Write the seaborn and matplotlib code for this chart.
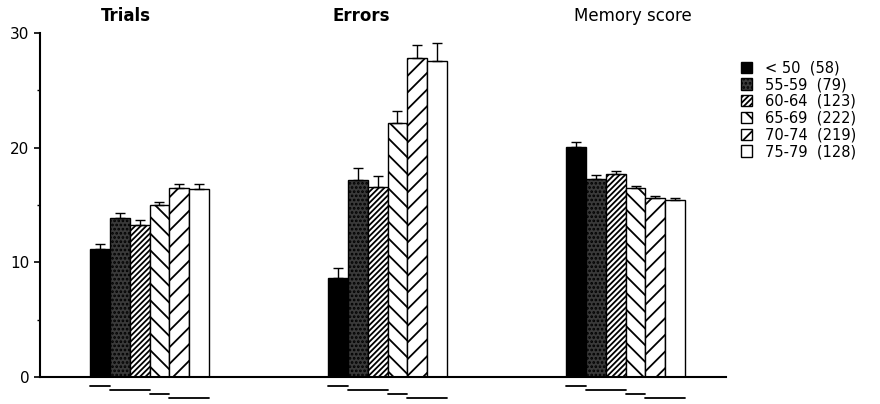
import pandas as pd
import seaborn as sns
import matplotlib.pyplot as plt

# medidas (grupos no eixo x) e faixas etárias (hue)
medidas = ["Trials", "Errors", "Memory score"]
faixas = ["< 50  (58)", "55-59  (79)", "60-64  (123)", "65-69  (222)", "70-74  (219)", "75-79  (128)"]

# médias
trials = [11.2, 13.9, 13.3, 15.0, 16.5, 16.4]
errors = [8.6, 17.2, 16.6, 22.2, 27.8, 27.6]
memory = [20.1, 17.3, 17.7, 16.5, 15.6, 15.4]

# erro padrão (só para cima)
trials_erro = [0.4, 0.4, 0.4, 0.3, 0.3, 0.4]
errors_erro = [0.9, 1.0, 0.9, 1.0, 1.2, 1.5]
memory_erro = [0.4, 0.3, 0.3, 0.2, 0.2, 0.2]

# barras agrupadas pelas linhas em escada embaixo de cada grupo
grupos_linhas = [[0], [1, 2], [3], [4, 5]]

# montando o dataframe no formato longo
linhas = []
for medida, valores in zip(medidas, [trials, errors, memory]):
    for faixa, v in zip(faixas, valores):
        linhas.append({"medida": medida, "faixa": faixa, "valor": v})
df = pd.DataFrame(linhas)

erros_por_faixa = list(zip(trials_erro, errors_erro, memory_erro))

sns.set_style("ticks")
plt.rcParams['font.family'] = ['DejaVu Sans']
plt.rcParams['hatch.linewidth'] = 1.3
plt.rcParams['text.color'] = 'black'
plt.rcParams['ytick.color'] = 'black'
plt.rcParams['ytick.labelcolor'] = 'black'
plt.rcParams['axes.edgecolor'] = 'black'

cores = ["black", "#3a3a3a", "white", "white", "white", "white"]
hachuras = [None, "....", "//////", "\\\\", "//", None]

fig = plt.figure(figsize=(8.8, 4.04), dpi=100)
ax = fig.add_axes([0.0455, 0.067, 0.779, 0.851])

sns.barplot(data=df, x="medida", y="valor", hue="faixa", order=medidas,
            hue_order=faixas, width=0.5, palette=cores, edgecolor="black",
            linewidth=1, errorbar=None, legend=False, ax=ax)

barras = list(ax.containers)  # guardar antes dos errorbars

for i, cont in enumerate(barras):
    for barra in cont:
        barra.set_facecolor(cores[i])
        barra.set_edgecolor("black")
        if hachuras[i]:
            barra.set_hatch(hachuras[i])
    xs = [b.get_x() + b.get_width() / 2 for b in cont]
    ys = [b.get_height() for b in cont]
    errs = erros_por_faixa[i]
    ax.errorbar(xs, ys, yerr=[[0] * len(errs), list(errs)], fmt="none",
                ecolor="black", elinewidth=1, capsize=3.5, capthick=1)

# linhas em escada abaixo do eixo
niveis = [-0.8, -1.1, -1.5, -1.85]
for g in range(len(medidas)):
    for k, grp in enumerate(grupos_linhas):
        b0 = barras[grp[0]][g]
        b1 = barras[grp[-1]][g]
        ax.plot([b0.get_x(), b1.get_x() + b1.get_width()], [niveis[k], niveis[k]],
                color="black", lw=1.3, clip_on=False)

# títulos de cada grupo
desloc_titulo = [-0.1, -0.11, 0.03]
for g, medida in enumerate(medidas):
    ax.text(g + desloc_titulo[g], 31.5, medida, ha="center", va="center",
            fontsize=12, fontweight="bold" if g < 2 else "normal", clip_on=False)

ax.set_xlim(-0.46, 2.42)
ax.set_ylim(0, 30)
ax.set_yticks([0, 10, 20, 30])
ax.set_yticks([5, 15, 25], minor=True)
ax.tick_params(axis="y", labelsize=11, width=1.2, length=4, colors="black")
ax.tick_params(axis="y", which="minor", length=2.5, width=1, colors="black")
ax.set_xticks([])
ax.set_xlabel("")
ax.set_ylabel("")
sns.despine(ax=ax)
ax.spines["left"].set_linewidth(1.5)
ax.spines["bottom"].set_linewidth(1.5)
ax.spines["left"].set_color("black")
ax.spines["bottom"].set_color("black")

ax.legend(barras, faixas, loc="upper left", bbox_to_anchor=(0.835, 0.865),
          bbox_transform=fig.transFigure, frameon=False, fontsize=10.5,
          handlelength=0.8, handleheight=0.8, handletextpad=0.9,
          labelspacing=0.12, borderaxespad=0)

fig.savefig("out.png", dpi=100)
